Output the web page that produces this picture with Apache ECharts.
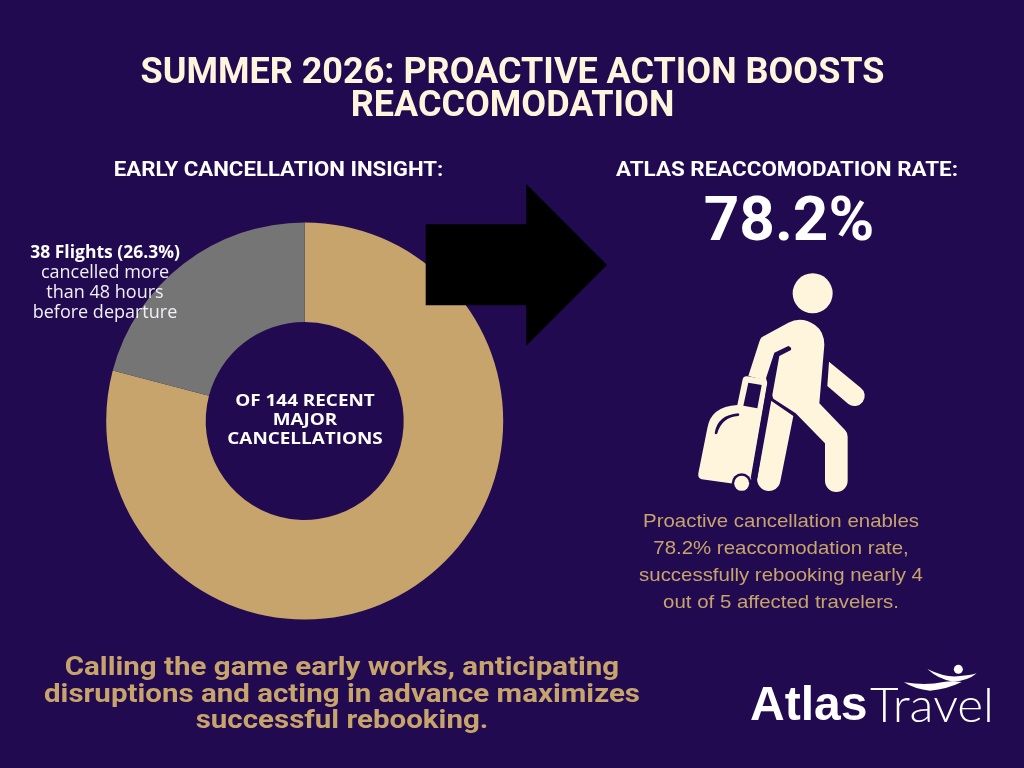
<!DOCTYPE html>
<html>
<head>
<meta charset="utf-8">
<style>html,body{margin:0;padding:0;background:#210a50}#c{width:1024px;height:768px}</style>
<script src="https://cdn.jsdelivr.net/npm/echarts@6/dist/echarts.min.js"></script>
</head>
<body>
<div id="c"></div>
<script>
const sliceNames = ['Cancelled closer to departure', 'Cancelled more than 48 hours before departure'];
const sliceValues = [79.1, 20.9];
const titleLines = ['SUMMER 2026: PROACTIVE ACTION BOOSTS', 'REACCOMODATION'];
const leftHeading = 'EARLY CANCELLATION INSIGHT:';
const rightHeading = 'ATLAS REACCOMODATION RATE:';
const rateText = '78.2%';
const calloutBold = '38 Flights (26.3%)';
const calloutLines = ['cancelled more', 'than 48 hours', 'before departure'];
const centerLines = ['OF 144 RECENT', 'MAJOR', 'CANCELLATIONS'];
const bodyLines = ['Proactive cancellation enables', '78.2% reaccomodation rate,', 'successfully rebooking nearly 4', 'out of 5 affected travelers.'];
const footerLines = ['Calling the game early works, anticipating', 'disruptions and acting in advance maximizes', 'successful rebooking.'];

const BG = '#210a50', TAN = '#c7a46c', GRAY = '#757575', CREAM = '#fff5dc', WHITE = '#ffffff';

function txt(text, x, y, size, weight, fill, family, sx, align) {
  return { type: 'text', z: 10, x, y, scaleX: sx || 1, silent: true,
    style: { text, fontSize: size, fontWeight: weight, fontFamily: family || 'Roboto', fill,
      textAlign: align || 'center', textVerticalAlign: 'middle' } };
}
let shapeId = 0;
function svgShape(d) {
  const name = 'svgShape' + (shapeId++);
  echarts.graphic.registerShape(name, echarts.graphic.extendPath(d, {}));
  return name;
}
function iconPath(d, fill, z) {
  return { type: svgShape(d), z: z || 10, x: 680, y: 260, scaleX: 1 / 3, scaleY: 1 / 3, silent: true, style: { fill } };
}
function logoPath(d) {
  return { type: svgShape(d), z: 10, x: 730, y: 650, scaleX: 1 / 3, scaleY: 1 / 3, silent: true, style: { fill: WHITE } };
}

const elements = [];
elements.push(txt(leftHeading, 278.5, 170.5, 20, 700, WHITE, 'Roboto', 1.11));
elements.push(txt(rightHeading, 787, 170.5, 20, 700, WHITE, 'Roboto', 1.12));
elements.push(txt(rateText, 789, 224, 62, 700, WHITE, 'Roboto'));
elements.push(txt(calloutBold, 105, 253, 17.5, 700, WHITE, 'Open Sans'));
calloutLines.forEach((t, i) => elements.push(txt(t, 105, 273 + i * 20, 18, 400, '#f2f0f6', 'Open Sans')));
centerLines.forEach((t, i) => elements.push(txt(t, 305, 401 + i * 19, 16, 700, WHITE, 'Open Sans', 1.18)));
bodyLines.forEach((t, i) => elements.push(txt(t, 781, 522 + i * 27, 19, 400, TAN, 'Liberation Sans', 1.075)));
footerLines.forEach((t, i) => elements.push(txt(t, 342, 669 + i * 26.5, 25, 700, TAN, 'Roboto', 1.18)));

// arrow
elements.push({ type: 'polygon', z: 9, silent: true, style: { fill: '#000000' },
  shape: { points: [[425.7, 224.3], [526.3, 224.3], [526.3, 184], [607, 265], [526.3, 345.7], [526.3, 305.3], [425.7, 305.3]] } });

// traveller icon
elements.push({ type: 'circle', z: 10, silent: true, shape: { cx: 680 + 398 / 3, cy: 260 + 100 / 3, r: 20 }, style: { fill: CREAM } });
elements.push(iconPath('M245,232 L325,188 Q365,168 405,195 Q433,215 433,255 L418,430 L495,510 Q503,518 503,530 L503,662 A34,34 0 0 1 435,662 L435,550 L347,460 L280,416 L262,362 L205,348 L238,245 Q241,236 245,232 Z', CREAM));
elements.push(iconPath('M270,420 L340,468 L301,664 A34,34 0 0 1 232,652 Z', CREAM));
elements.push(iconPath('M447,305 L542,383 A28,28 0 0 1 505,432 L442,378 Z', CREAM));
elements.push(iconPath('M172,435 L188,358 Q190,348 202,349 L255,358 Q265,360 262,372 L210,678 L65,658 Q53,655 55,640 L82,505 Q92,440 172,435 Z', CREAM));
// dark details
elements.push(iconPath('M283,278 L325,258 Q336,262 333,270 L298,288 L276,410 L232,655 L212,655 L262,368 L258,355 Z', BG, 11));
elements.push(iconPath('M205,368 L245,375 L232,445 L190,437 Z', BG, 11));
elements.push(iconPath('M104,520 Q112,465 175,460 Q181,464 175,468 Q125,472 112,520 Q108,526 104,520 Z', BG, 11));
elements.push({ type: 'circle', z: 12, silent: true, shape: { cx: 680 + 185 / 3, cy: 260 + 670 / 3, r: 10 }, style: { fill: BG } });
elements.push({ type: 'circle', z: 13, silent: true, shape: { cx: 680 + 185 / 3, cy: 260 + 670 / 3, r: 7.5 }, style: { fill: CREAM } });

// logo
elements.push(txt('Atlas', 750, 707, 48, 700, WHITE, 'Liberation Sans', 1, 'left'));
elements.push(txt('Travel', 870, 707, 48, 300, WHITE, 'Lato', 1.03, 'left'));
elements.push({ type: 'circle', z: 10, silent: true, shape: { cx: 730 + 685 / 3, cy: 650 + 58 / 3, r: 4.5 }, style: { fill: WHITE } });
elements.push(logoPath('M592,57 Q650,85 690,78 Q720,76 740,70 Q715,92 670,95 Q625,88 592,57 Z'));
elements.push(logoPath('M522,97 Q590,108 640,96 Q665,92 695,96 Q650,118 600,122 Q555,118 522,97 Z'));

const chart = echarts.init(document.getElementById('c'), null, { renderer: 'canvas', width: 1024, height: 768 });
chart.setOption({
  animation: false,
  backgroundColor: BG,
  title: {
    text: titleLines.join('\n'), left: 507.5, top: 52, textAlign: 'center',
    textStyle: { color: CREAM, fontFamily: 'Roboto', fontWeight: 700, fontSize: 36, lineHeight: 33.5 }
  },
  series: [{
    type: 'pie', radius: [99, 198.5], center: [304.7, 421], startAngle: 90, clockwise: true,
    silent: true, label: { show: false }, labelLine: { show: false },
    data: sliceNames.map((name, i) => ({ name, value: sliceValues[i], itemStyle: { color: [TAN, GRAY][i], borderWidth: 0 } }))
  }],
  graphic: { elements }
});
</script>
</body>
</html>
